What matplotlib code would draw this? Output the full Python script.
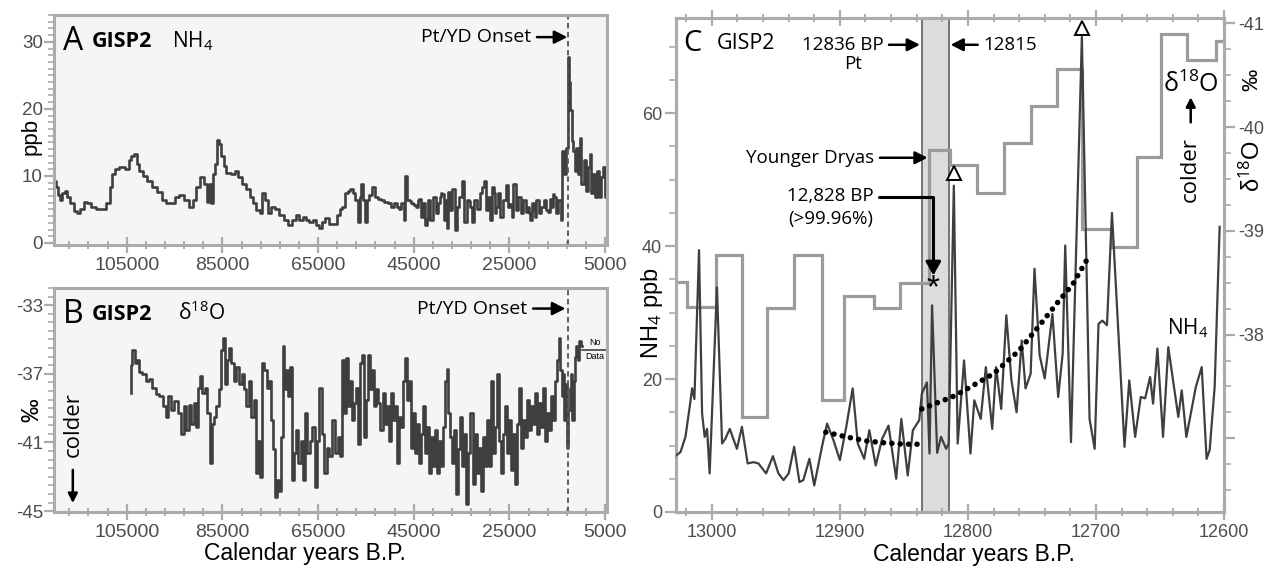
import numpy as np
import matplotlib
matplotlib.use('Agg')
import matplotlib.pyplot as plt
from matplotlib.ticker import FixedLocator, MultipleLocator

plt.rcParams['font.family'] = ['Liberation Sans', 'DejaVu Sans']
plt.rcParams['mathtext.fontset'] = 'custom'
plt.rcParams['mathtext.rm'] = 'Open Sans'
plt.rcParams['mathtext.it'] = 'Open Sans:italic'
plt.rcParams['mathtext.bf'] = 'Open Sans:bold'
plt.rcParams['axes.unicode_minus'] = False

# ---- panel A: GISP2 NH4 (ppb), years B.P. ----
a_years = [119930, 119580, 119240, 118750, 118190, 117640, 117150, 116460, 115760, 115070,
           114370, 113680, 112990, 111940, 110900, 109860, 108820, 108330, 107780, 107080,
           106040, 104860, 104310, 103750, 103130, 102780, 102220, 101180, 100140, 99100,
           98060, 97360, 96320, 95280, 94580, 93540, 92500, 91460, 90760, 90070,
           89170, 88330, 87990, 87640, 87290, 86810, 86390, 86040, 85560, 85000,
           84510, 83820, 82780, 82080, 81390, 80350, 79650, 78960, 78260, 77570,
           76880, 76390, 75830, 75140, 74440, 73610, 72710, 71670, 70970, 69930,
           69240, 68540, 67850, 67150, 66460, 65760, 65070, 64380,
           63880, 63170, 62460, 61400, 60700, 60200, 59640, 59070, 58570, 58080,
           57510, 56950, 56450, 56100, 55750, 55390, 55040, 54690, 53980, 53410,
           52920, 52210, 51500, 50800, 50090, 49380, 48680, 47970, 47260, 46910,
           46560, 46060, 45490, 44790, 44080, 43370, 42810, 42310, 41820, 41250,
           40690, 40190, 39700, 39130, 38570, 38070, 37580, 37150, 36660, 36160,
           35740, 35240, 34750, 34180, 33620, 33120, 32630, 32060, 31500, 31000,
           30650, 30150, 29730, 29240, 28740, 28170, 27680, 27110, 26620, 26050,
           25560, 24990, 24430, 23930, 23440, 22870, 22310, 21810, 21320, 20750,
           20190, 19690, 19190, 18630, 18060, 17570, 17070, 16510, 16010, 15450,
           14950, 14530, 14100, 13820, 13330, 12970, 12690, 12410, 12130, 11840,
           11560, 11210, 10850, 10500, 10140, 9720, 9300, 8870, 8380, 8020,
           7670, 7320, 6890, 6470, 6040, 5620, 5200, 4840, 4490]
a_nh4 = [9.3, 8.3, 7.1, 6.4, 7.4, 7.8, 6.9, 5.9, 4.7, 4.4,
         5.1, 6.1, 5.9, 5.4, 5.1, 5.1, 5.9, 8.3, 10.3, 11.0,
         11.3, 11.0, 12.3, 13.0, 13.2, 11.8, 10.8, 10.0, 9.3, 8.3,
         7.6, 6.4, 5.9, 5.9, 6.9, 7.1, 6.4, 5.4, 6.4, 8.3,
         9.8, 8.8, 6.1, 8.8, 5.9, 10.3, 11.8, 15.4, 14.7, 13.0,
         11.5, 10.5, 10.3, 10.8, 9.8, 8.8, 8.1, 6.9, 5.9, 4.9,
         4.4, 7.4, 6.4, 4.4, 5.4, 5.1, 4.2, 3.4, 2.7, 3.4,
         4.2, 3.4, 3.9, 3.4, 3.2, 3.4, 2.7, 2.2,
         3.2, 3.7, 2.9, 2.9, 4.2, 5.1, 5.4, 7.4, 7.8, 8.1,
         7.4, 6.4, 3.2, 6.9, 8.8, 6.4, 3.2, 6.4, 7.1, 8.3,
         6.9, 6.6, 6.4, 6.1, 5.9, 5.4, 5.9, 5.1, 5.9, 3.4,
         10.0, 6.4, 5.9, 5.6, 6.4, 3.9, 5.9, 2.7, 6.4, 3.4,
         6.9, 4.4, 5.9, 7.4, 3.4, 6.4, 7.6, 4.9, 8.1, 2.0,
         5.4, 6.9, 9.3, 3.2, 6.4, 5.4, 3.2, 6.4, 5.1, 7.4,
         8.3, 9.3, 4.9, 6.9, 3.4, 7.4, 5.4, 7.4, 3.9, 6.4,
         8.6, 5.4, 3.9, 8.8, 4.9, 6.9, 4.4, 6.4, 5.4, 4.4,
         5.9, 4.9, 6.4, 4.4, 5.4, 6.4, 4.9, 6.6, 5.4, 6.9,
         4.4, 6.4, 3.4, 13.7, 10.3, 14.2, 27.7, 24.0, 19.9, 15.2,
         13.7, 10.8, 14.2, 10.3, 15.7, 8.8, 12.3, 7.8, 11.3, 13.2,
         7.4, 10.3, 6.9, 10.8, 6.9, 9.8, 11.3, 6.9, 10.8]
# second close-up reading of the dense 48-15 ka stretch
a_years_extra = [48180, 45710, 45000, 44290, 43800, 42170, 39340, 38850, 37930, 33330,
                 28390, 27960, 24640, 21460, 20960, 20470, 19550, 16720, 16230, 15800]
a_nh4_extra = [5.3, 6.3, 5.8, 5.3, 6.6, 3.6, 6.8, 7.3, 2.2, 6.3,
               8.3, 4.4, 5.8, 4.6, 5.3, 3.4, 3.9, 4.6, 6.3, 7.3]

# ---- panel B: GISP2 d18O (permil) ----
b_years = [104200, 104160, 103600, 103110, 102620, 102060, 101370, 100670, 99970, 99270,
           98570, 97870, 97170, 96610, 96120, 95420, 94720, 94030, 93330, 92840,
           92280, 91720, 91230, 90740, 90180, 89830, 89480, 88990, 88430, 87940,
           87380, 87040, 86550, 85990, 85500, 85150, 84730, 84380, 83890, 83400,
           82840, 82350, 81790, 81230, 80740, 80250, 79700, 79210, 78650, 78160,
           77740, 77250, 76900, 76550, 76060, 75500, 75080, 74660, 74240, 73820,
           73410, 72910, 72570, 72290, 71870, 71450, 70960, 70610, 70120, 69770,
           69350, 68860, 68370, 67950, 67460, 66970, 66410, 65920, 65570, 65020,
           64460, 63970, 63480, 62920, 62360,
           61710, 61150, 60650, 60160, 59740, 59320, 58900, 58480, 58060, 57640,
           57210, 56790, 56370, 55950, 55530, 55110, 54690, 54270, 53850, 53420,
           53000, 52580, 52160, 51740, 51320, 50900, 50480, 50050, 49630, 49210,
           48790, 48370, 47950, 47530, 47110, 46680, 46260, 45840, 45420, 45000,
           44580, 44160, 43740, 43320, 42890, 42470, 42050, 41630, 41210, 40790,
           40370, 39950, 39520, 39100, 38680, 38260, 37980, 37560, 37140, 36720,
           36300, 35870, 35450, 35030, 34610, 34190, 33770, 33350, 32930, 32500,
           32080, 31660, 31240, 30820, 30400, 29980, 29560, 29130, 28710, 28290,
           27870, 27450, 27030, 26610, 26190, 25770, 25340, 24920, 24500, 24080,
           23660, 23240, 22820, 22400, 21970, 21550, 21130, 20710, 20290, 19870,
           19450, 19030, 18600, 18180, 17760, 17340, 16920, 16500, 16080, 15660,
           15240, 14810, 14530, 14250, 13970, 13690, 13410, 13130, 12850, 12570,
           12290, 12010, 11730, 11440, 11160, 10880, 10600, 10250, 9900]
b_d18o = [-38.1, -36.5, -35.6, -36.4, -36.2, -36.9, -37.0, -37.4, -37.3, -37.8,
          -38.2, -38.3, -38.9, -39.5, -38.3, -39.1, -38.6, -39.3, -40.5, -38.9,
          -40.3, -38.8, -39.9, -38.7, -40.1, -37.8, -37.1, -38.1, -37.8, -39.3,
          -42.2, -39.9, -39.5, -38.9, -37.9, -35.6, -34.9, -37.6, -36.2, -35.5,
          -36.4, -37.4, -36.6, -37.6, -37.0, -37.9, -38.9, -37.4, -39.5, -38.5,
          -42.8, -40.9, -43.0, -36.4, -36.8, -37.8, -37.4, -39.7, -41.4, -44.2,
          -43.2, -43.8, -40.7, -35.4, -37.9, -36.8, -38.3, -36.6, -43.2, -41.6,
          -40.3, -42.2, -40.9, -43.2, -39.3, -41.6, -40.9, -40.1, -43.6, -40.9,
          -37.8, -40.5, -42.8, -41.3, -41.8,
          -39.7, -41.6, -40.7, -41.8, -36.2, -39.3, -36.1, -38.9, -37.4, -39.7,
          -38.7, -37.8, -41.1, -36.4, -35.9, -40.7, -38.5, -35.9, -37.9, -36.8,
          -38.9, -37.9, -38.7, -40.3, -38.1, -39.9, -38.9, -40.9, -38.1, -39.7,
          -38.9, -42.2, -39.5, -40.1, -37.4, -36.1, -38.5, -37.4, -41.3, -39.3,
          -41.6, -39.9, -42.2, -40.5, -38.9, -41.6, -40.1, -42.8, -40.7, -42.4,
          -40.3, -42.8, -40.9, -42.4, -40.1, -37.4, -36.7, -39.3, -40.7, -42.2,
          -40.3, -44.0, -41.4, -39.5, -42.4, -40.5, -44.6, -41.6, -39.3, -43.4,
          -40.5, -42.8, -41.3, -43.8, -40.7, -42.4, -39.7, -42.4, -37.4, -41.6,
          -40.1, -37.0, -40.9, -42.8, -40.5, -38.9, -41.6, -39.7, -42.6, -40.5,
          -43.4, -39.9, -37.8, -41.3, -39.7, -40.7, -38.5, -40.3, -38.9, -39.9,
          -38.1, -40.5, -38.7, -40.1, -37.8, -40.9, -39.3, -40.3, -38.3, -39.7,
          -37.4, -36.2, -34.9, -36.8, -38.3, -37.0, -39.7, -37.6, -41.3, -39.1,
          -37.8, -37.0, -39.7, -37.4, -36.0, -35.4, -36.2, -35.1, -35.4]

# ---- panel C: NH4 (left axis) and d18O steps (right axis) ----
c_years = [13028, 13024.5, 13020.6, 13017.3, 13015.4, 13013.6, 13010, 13007.6, 13005.6, 13003.7,
           13001.7, 12996, 12992, 12989.5, 12986, 12980.4, 12976.5, 12972, 12967.4, 12963.6,
           12957.6, 12952.3, 12948, 12944, 12940, 12935.7, 12931.6, 12928.5, 12923.8, 12920,
           12914, 12910, 12905, 12900, 12895, 12890, 12886, 12881, 12877, 12872,
           12867, 12862, 12856, 12852, 12847, 12843, 12838, 12836, 12832, 12830,
           12828, 12824, 12821, 12817, 12815, 12811, 12808, 12803, 12798, 12795,
           12790, 12786, 12781, 12778, 12774, 12770, 12766, 12762, 12758, 12755,
           12751, 12748, 12744, 12740, 12734, 12729.5, 12726, 12724, 12719.5, 12711,
           12705, 12701, 12698, 12695, 12691.4, 12687.5, 12677.7, 12674, 12669.4, 12665,
           12661.6, 12657.7, 12655.4, 12652, 12647.6, 12643.5, 12635.7, 12633, 12629.4, 12622,
           12617.4, 12613.6, 12611.2, 12607.3, 12603.4]
c_nh4 = [8.5, 9.0, 11.3, 15.8, 18.6, 17.0, 39.4, 14.8, 11.3, 12.5,
         5.8, 33.8, 10.3, 11.0, 12.5, 9.5, 12.8, 7.3, 7.5, 7.3,
         5.8, 8.4, 5.8, 4.8, 5.8, 9.8, 4.5, 4.8, 8.0, 4.0,
         9.8, 13.3, 10.8, 7.8, 12.8, 18.6, 10.3, 8.0, 12.3, 7.0,
         11.0, 13.0, 5.0, 14.0, 5.5, 12.3, 13.8, 17.8, 19.5, 8.8,
         31.1, 8.9, 11.3, 9.5, 10.3, 49.1, 10.3, 22.8, 8.8, 16.8,
         14.0, 21.8, 12.5, 21.8, 15.5, 29.6, 19.8, 15.0, 25.8, 18.6,
         20.8, 36.6, 23.6, 20.1, 29.8, 17.3, 23.8, 40.1, 10.5, 71.5,
         14.0, 9.5, 28.3, 28.8, 28.1, 45.0, 9.8, 19.8, 11.3, 17.3,
         17.1, 20.3, 16.3, 24.6, 11.3, 24.8, 14.3, 18.3, 11.3, 18.8,
         21.8, 8.0, 9.3, 18.8, 42.9]

c_step_edges = [13028, 13019, 12997, 12976.5, 12957, 12936, 12914, 12897, 12873, 12853,
                12830, 12814, 12793, 12772, 12751, 12730.5, 12711, 12688, 12668, 12649,
                12629, 12606.5, 12600]
c_step_d18o = [-38.51, -38.27, -38.77, -37.21, -38.26, -38.77, -37.37, -38.37, -38.26, -38.50,
               -39.78, -39.63, -39.36, -39.85, -40.20, -40.56, -39.02, -38.84, -39.71, -40.90,
               -40.65, -40.83]

trend1_years = [12911, 12895, 12880, 12865, 12850, 12837]
trend1_nh4 = [12.0, 11.3, 10.7, 10.4, 10.2, 10.2]
trend2_years = [12836, 12810, 12780, 12760, 12744, 12730, 12718, 12706]
trend2_nh4 = [15.5, 17.5, 20.8, 24.3, 28.1, 31.5, 34.3, 38.3]

spike_marks_years = [12811, 12711]
spike_marks_nh4 = [51.0, 72.8]

ab_xticks = [105000, 85000, 65000, 45000, 25000, 5000]
ab_xticklabels = ['105000', '85000', '65000', '45000', '25000', '5000']
c_xticks = [13000, 12900, 12800, 12700, 12600]
c_right_ticks = [-41, -40, -39, -38, -37]
c_right_labels = ['-41', '-40', '-39', '-38', '']

pt_onset = 12836
pt_end = 12815

ANN = ['Open Sans', 'DejaVu Sans']
SPINE = '#ababab'
TICKC = '#4d4d4d'
LINEC = '#3f3f3f'
BG = '#f5f5f5'
ARW = dict(arrowstyle='-|>,head_length=0.55,head_width=0.28', lw=1.8, color='black',
           shrinkA=2, shrinkB=0)


def style(ax):
    ax.set_facecolor(BG)
    for s in ax.spines.values():
        s.set_color(SPINE)
        s.set_linewidth(2.2)


fig = plt.figure(figsize=(12.68, 5.70), dpi=100)
axA = fig.add_axes([0.0426, 0.5702, 0.4361, 0.4035])
axB = fig.add_axes([0.0426, 0.1018, 0.4361, 0.3930])
axC = fig.add_axes([0.5331, 0.1018, 0.4322, 0.8663])

# ----- A -----
ya = np.concatenate([a_years, a_years_extra])
va = np.concatenate([a_nh4, a_nh4_extra])
order = np.argsort(-ya)
style(axA)
axA.plot(ya[order], va[order], drawstyle='steps-mid', color=LINEC, lw=1.9)
axA.axvline(pt_onset, color='#555555', lw=1.3, ls=(0, (3, 2)))
axA.set_xlim(120200, 4600)
axA.set_ylim(-0.3, 34)
axA.set_yticks([0, 10, 20, 30])
axA.yaxis.set_minor_locator(MultipleLocator(1))
axA.set_ylabel('ppb', fontsize=16)
axA.yaxis.set_label_coords(-0.022, 0.47)
axA.text(0.016, 0.848, 'A', transform=axA.transAxes, fontsize=23, family=ANN)
axA.text(0.069, 0.861, 'GISP2', transform=axA.transAxes, fontsize=15.5, family=ANN,
         weight='bold')
axA.text(0.213, 0.861, 'NH$_4$', transform=axA.transAxes, fontsize=15, family=ANN)
axA.annotate('Pt/YD Onset', xy=(12900, 30.7), xytext=(20400, 30.7), ha='right',
             va='center', fontsize=14, family=ANN, arrowprops=ARW)

# ----- B -----
style(axB)
axB.plot(b_years, b_d18o, drawstyle='steps-mid', color=LINEC, lw=1.9)
axB.axvline(pt_onset, color='#555555', lw=1.3, ls=(0, (3, 2)))
axB.plot([9800, 4600], [-35.6, -35.6], color=LINEC, lw=1.2)
axB.text(7200, -35.45, 'No', fontsize=6.5, ha='center', va='bottom')
axB.text(7200, -35.75, 'Data', fontsize=6.5, ha='center', va='top')
axB.set_xlim(120200, 4600)
axB.set_ylim(-45.05, -32.0)
axB.set_yticks([-33, -37, -41, -45])
axB.yaxis.set_minor_locator(MultipleLocator(0.5))
axB.set_ylabel('‰', fontsize=17)
axB.yaxis.set_label_coords(-0.02, 0.455)
axB.set_xlabel('Calendar years B.P.', fontsize=16.5)
axB.xaxis.set_label_coords(0.454, -0.135)
axB.text(0.016, 0.844, 'B', transform=axB.transAxes, fontsize=23, family=ANN)
axB.text(0.069, 0.857, 'GISP2', transform=axB.transAxes, fontsize=15.5, family=ANN,
         weight='bold')
axB.text(0.224, 0.857, 'δ$^{18}$O', transform=axB.transAxes, fontsize=15, family=ANN)
axB.annotate('Pt/YD Onset', xy=(13300, -33.2), xytext=(21200, -33.2), ha='right',
             va='center', fontsize=14, family=ANN, arrowprops=ARW)
axB.text(0.034, 0.39, 'colder', transform=axB.transAxes, rotation=90, fontsize=16,
         family=ANN, ha='center', va='center')
axB.annotate('', xy=(0.034, 0.04), xytext=(0.034, 0.2), xycoords='axes fraction',
             textcoords='axes fraction', arrowprops=ARW)

for ax in (axA, axB):
    ax.set_xticks(ab_xticks)
    ax.set_xticklabels(ab_xticklabels)
    ax.xaxis.set_minor_locator(FixedLocator(np.arange(5000, 120001, 4000)))
    ax.tick_params(axis='x', which='major', direction='inout', length=11, width=1.6,
                   color=SPINE, labelcolor=TICKC, labelsize=14, pad=3)
    ax.tick_params(axis='x', which='minor', direction='inout', length=6, width=1.4,
                   color=SPINE)
    ax.tick_params(axis='y', which='major', direction='out', length=7, width=1.6,
                   color=SPINE, labelcolor=TICKC, labelsize=13.5, pad=1)
    ax.tick_params(axis='y', which='minor', direction='out', length=4, width=1.2,
                   color=SPINE)

# ----- C -----
ax2 = axC.twinx()
style(ax2)
axC.set_zorder(ax2.get_zorder() + 1)
axC.patch.set_visible(False)
for s in axC.spines.values():
    s.set_color(SPINE)
    s.set_linewidth(2.2)

ax2.axvspan(pt_onset, pt_end, color='#dcdcdc', lw=0, zorder=0)
ax2.axvline(pt_onset, color='#6a6a6a', lw=1.3, zorder=1)
ax2.axvline(pt_end, color='#6a6a6a', lw=1.3, zorder=1)
ax2.stairs(c_step_d18o[::-1], c_step_edges[::-1], baseline=None, color='#9b9b9b', lw=2.3,
           zorder=2)
ax2.set_ylim(-36.29, -41.05)
ax2.set_yticks(c_right_ticks)
ax2.set_yticklabels(c_right_labels)
ax2.yaxis.set_minor_locator(MultipleLocator(0.25))
ax2.tick_params(axis='y', which='major', direction='out', length=8, width=1.6, color=SPINE,
                labelcolor=TICKC, labelsize=13, pad=2)
ax2.tick_params(axis='y', which='minor', direction='out', length=5, width=1.2, color=SPINE)

axC.plot(c_years, c_nh4, color=LINEC, lw=1.6, zorder=3)
axC.plot(trend1_years, trend1_nh4, color='black', lw=4, ls=(0, (0.01, 1.5)),
         dash_capstyle='round', zorder=4)
axC.plot(trend2_years, trend2_nh4, color='black', lw=4, ls=(0, (0.01, 1.5)),
         dash_capstyle='round', zorder=4)
axC.plot(spike_marks_years, spike_marks_nh4, ls='none', marker='^', ms=10, mfc='white',
         mec='black', mew=1.4, zorder=5)
axC.text(12827, 33.6, '*', fontsize=24, ha='center', va='center', zorder=5)

axC.set_xlim(13028, 12600)
axC.set_ylim(0, 74.3)
axC.set_xticks(c_xticks)
axC.xaxis.set_minor_locator(MultipleLocator(20))
axC.set_yticks([0, 20, 40, 60])
axC.yaxis.set_minor_locator(MultipleLocator(5))
axC.tick_params(axis='x', which='major', direction='inout', length=11, width=1.6, color=SPINE,
                labelcolor=TICKC, labelsize=13, top=True, pad=3)
axC.tick_params(axis='x', which='minor', direction='inout', length=6, width=1.4, color=SPINE,
                top=True)
axC.tick_params(axis='y', which='major', direction='out', length=8, width=1.6, color=SPINE,
                labelcolor=TICKC, labelsize=13, pad=2)
axC.tick_params(axis='y', which='minor', direction='out', length=5, width=1.2, color=SPINE)
axC.set_xlabel('Calendar years B.P.', fontsize=16.5)
axC.xaxis.set_label_coords(0.544, -0.062)
axC.set_ylabel('NH$_4$ ppb', fontsize=17)
axC.yaxis.set_label_coords(-0.02, 0.403)

axC.text(0.013, 0.933, 'C', transform=axC.transAxes, fontsize=21, family=ANN)
axC.text(0.075, 0.937, 'GISP2', transform=axC.transAxes, fontsize=15.5, family=ANN)
axC.annotate('12836 BP', xy=(12837.5, 70.3), xytext=(12866, 70.3), ha='right',
             va='center', fontsize=13.5, family=ANN, arrowprops=ARW)
axC.text(12890, 67.4, 'Pt', ha='center', va='center', fontsize=13.5, family=ANN)
axC.annotate('12815', xy=(12813.5, 70.3), xytext=(12788, 70.3), ha='left', va='center',
             fontsize=13.5, family=ANN, arrowprops=ARW)
axC.annotate('Younger Dryas', xy=(12831.5, 53.3), xytext=(12873, 53.3), ha='right',
             va='center', fontsize=13.5, family=ANN, arrowprops=ARW)
axC.text(12874, 47.5, '12,828 BP', ha='right', va='center', fontsize=13.5, family=ANN)
axC.text(12874, 44.1, '(>99.96%)', ha='right', va='center', fontsize=13.5, family=ANN)
axC.annotate('', xy=(12827, 35.6), xytext=(12869.5, 47.4),
             arrowprops=dict(arrowstyle='-|>,head_length=0.8,head_width=0.45', lw=2.2,
                             color='black', shrinkA=0, shrinkB=0,
                             connectionstyle='angle,angleA=0,angleB=90,rad=0'))
axC.text(12628, 27.6, 'NH$_4$', ha='center', va='center', fontsize=15, family=ANN)
axC.text(12625.5, 64.3, 'δ$^{18}$O', ha='center', va='center', fontsize=18, family=ANN)
axC.text(12626, 51.5, 'colder', rotation=90, ha='center', va='center', fontsize=16,
         family=ANN)
axC.annotate('', xy=(12626, 62.4), xytext=(12626, 58.2), arrowprops=ARW)

axC.text(1.051, 0.70, 'δ$^{18}$O', transform=axC.transAxes, rotation=90, ha='center',
         va='center', fontsize=17)
axC.text(1.051, 0.875, '‰', transform=axC.transAxes, rotation=90, ha='center',
         va='center', fontsize=16)

fig.savefig('out.png', dpi=100)
